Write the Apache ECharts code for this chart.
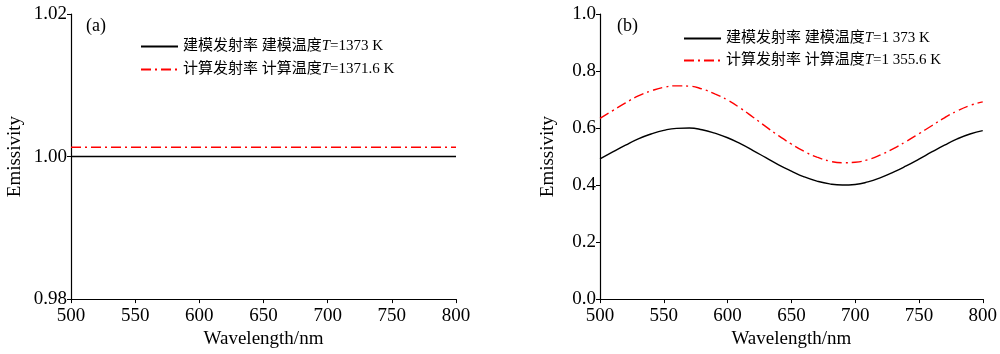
<!DOCTYPE html>
<html>
<head>
<meta charset="utf-8">
<script src="https://cdn.jsdelivr.net/npm/echarts@6/dist/echarts.min.js"></script>
<style>
  html, body { margin: 0; padding: 0; background: #fff; }
  #chart { width: 1000px; height: 354px; }
</style>
</head>
<body>
<div id="chart"></div>
<script>
// 数据
var xTicks = [500, 550, 600, 650, 700, 750, 800];

// (a) 黑体
var waveA = [500, 800];
var modelA = [1.000, 1.000];
var calcA = [1.0013, 1.0013];

// (b) 灰体, 每 10 nm 读一个点
var waveB = [500, 510, 520, 530, 540, 550, 560, 570, 580, 590, 600, 610, 620, 630, 640, 650,
             660, 670, 680, 690, 700, 710, 720, 730, 740, 750, 760, 770, 780, 790, 800];
var modelB = [0.492, 0.516, 0.540, 0.562, 0.579, 0.592, 0.599, 0.600, 0.594, 0.582, 0.566,
              0.545, 0.521, 0.496, 0.471, 0.449, 0.429, 0.414, 0.404, 0.400, 0.402, 0.411,
              0.426, 0.445, 0.467, 0.491, 0.516, 0.540, 0.562, 0.579, 0.591];
var calcB = [0.634, 0.661, 0.688, 0.713, 0.730, 0.743, 0.748, 0.747, 0.737, 0.720, 0.698,
             0.670, 0.638, 0.605, 0.573, 0.544, 0.518, 0.498, 0.484, 0.478, 0.480, 0.489,
             0.506, 0.528, 0.553, 0.580, 0.608, 0.636, 0.660, 0.679, 0.692];

var legendA = ['建模发射率 建模温度|1373 K', '计算发射率 计算温度|1371.6 K'];
var legendB = ['建模发射率 建模温度|1 373 K', '计算发射率 计算温度|1 355.6 K'];

var serif = "'Liberation Serif', 'Noto Sans CJK SC', serif";
var dashDot = [10, 4, 2, 4];

function pairs(xs, ys) {
    return xs.map(function (x, i) { return [x, ys[i]]; });
}

function legendFmt(name) {
    var p = name.split('|');
    return '{a|' + p[0] + '}{i|T}{a|=' + p[1] + '}';
}

var legendText = {
    color: '#000',
    fontFamily: serif,
    fontSize: 15,
    rich: {
        a: { fontFamily: serif, fontSize: 15, color: '#000' },
        i: { fontFamily: serif, fontSize: 15, color: '#000', fontStyle: 'italic' }
    }
};

function xAxisOf(idx) {
    return {
        type: 'value', gridIndex: idx, min: 500, max: 800, interval: 50,
        name: 'Wavelength/nm', nameLocation: 'middle', nameGap: 29,
        nameTextStyle: { fontFamily: serif, fontSize: 19, color: '#000' },
        axisLine: { lineStyle: { color: '#000', width: 1.2 } },
        axisTick: { inside: false, length: 4, lineStyle: { color: '#000' } },
        axisLabel: { fontFamily: serif, fontSize: 19, color: '#000', margin: 7 },
        splitLine: { show: false }
    };
}

function yAxisOf(idx, min, max, interval, digits) {
    return {
        type: 'value', gridIndex: idx, min: min, max: max, interval: interval,
        name: 'Emissivity', nameLocation: 'middle', nameGap: idx === 0 ? 46 : 42,
        nameTextStyle: { fontFamily: serif, fontSize: 19, color: '#000' },
        axisLine: { show: true, lineStyle: { color: '#000', width: 1.2 } },
        axisTick: { show: true, inside: false, length: 4, lineStyle: { color: '#000' } },
        axisLabel: {
            fontFamily: serif, fontSize: 19, color: '#000', margin: 4,
            formatter: function (v) { return v.toFixed(digits); }
        },
        splitLine: { show: false }
    };
}

var myChart = echarts.init(document.getElementById('chart'));
var option = {
    backgroundColor: '#fff',
    animation: false,
    title: [
        { text: '(a)', left: 81, top: 12, textStyle: { fontFamily: serif, fontSize: 18, fontWeight: 'normal', color: '#000' } },
        { text: '(b)', left: 612, top: 12, textStyle: { fontFamily: serif, fontSize: 18, fontWeight: 'normal', color: '#000' } }
    ],
    grid: [
        { left: 71, right: 544, top: 14, bottom: 54 },
        { left: 600, right: 15, top: 14, bottom: 54 }
    ],
    legend: [
        {
            data: legendA, orient: 'vertical', left: 135, top: 34, itemGap: 8,
            itemWidth: 37, itemHeight: 10, formatter: legendFmt, textStyle: legendText,
            itemStyle: { opacity: 0 }
        },
        {
            data: legendB, orient: 'vertical', left: 678, top: 26, itemGap: 7,
            itemWidth: 37, itemHeight: 10, formatter: legendFmt, textStyle: legendText,
            itemStyle: { opacity: 0 }
        }
    ],
    xAxis: [xAxisOf(0), xAxisOf(1)],
    yAxis: [yAxisOf(0, 0.98, 1.02, 0.02, 2), yAxisOf(1, 0, 1.0, 0.2, 1)],
    series: [
        {
            name: legendA[0], type: 'line', xAxisIndex: 0, yAxisIndex: 0,
            data: pairs(waveA, modelA), showSymbol: false, symbol: 'none',
            lineStyle: { color: '#000', width: 1.4 }, itemStyle: { color: '#000' }
        },
        {
            name: legendA[1], type: 'line', xAxisIndex: 0, yAxisIndex: 0,
            data: pairs(waveA, calcA), showSymbol: false, symbol: 'none',
            lineStyle: { color: '#ff0000', width: 1.4, type: dashDot }, itemStyle: { color: '#ff0000' }
        },
        {
            name: legendB[0], type: 'line', xAxisIndex: 1, yAxisIndex: 1,
            data: pairs(waveB, modelB), showSymbol: false, symbol: 'none', smooth: true,
            lineStyle: { color: '#000', width: 1.4 }, itemStyle: { color: '#000' }
        },
        {
            name: legendB[1], type: 'line', xAxisIndex: 1, yAxisIndex: 1,
            data: pairs(waveB, calcB), showSymbol: false, symbol: 'none', smooth: true,
            lineStyle: { color: '#ff0000', width: 1.4, type: dashDot }, itemStyle: { color: '#ff0000' }
        }
    ]
};
myChart.setOption(option);
window.addEventListener('resize', function () { myChart.resize(); });
</script>
</body>
</html>
